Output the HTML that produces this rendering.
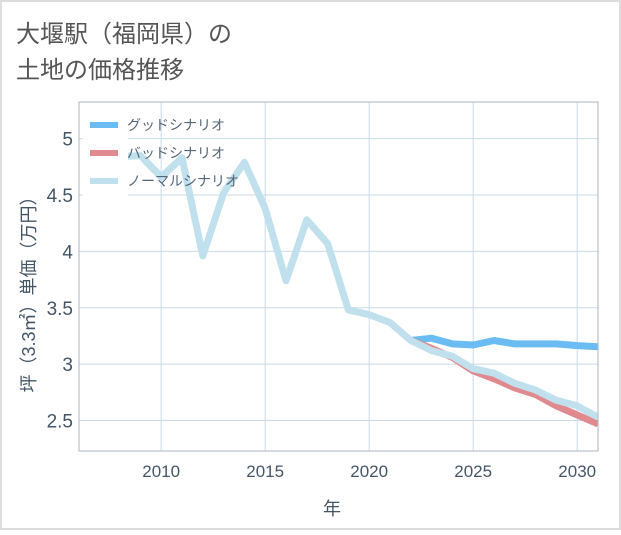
<!DOCTYPE html>
<html><head><meta charset="utf-8"><style>
body{margin:0;background:#fff;}
#wrap{position:relative;width:621px;height:530px;}
text{font-family:"Liberation Sans","Noto Sans CJK JP",sans-serif;}
</style></head><body>
<div id="wrap">
<svg id="chart" width="621" height="530">
<rect x="1" y="1" width="619" height="528" fill="#fff" stroke="#ddd" stroke-width="2"/>
<text x="16" y="42" font-size="24" fill="#555">大堰駅（福岡県）の</text>
<text x="16" y="78" font-size="24" fill="#555">土地の価格推移</text>
<g id="grid"></g>
<g id="series"></g>
<rect x="79" y="102" width="519" height="349" fill="none" stroke="#aab4c0" stroke-width="1"/>
<text x="332" y="515" font-size="18" fill="#445566" text-anchor="middle">年</text>
<text transform="translate(35,290) rotate(-90)" font-size="18" fill="#445566" text-anchor="middle">坪（3.3㎡）単価（万円）</text>
<g id="legend"></g>
</svg>
</div>
<script>
const years=[2008,2009,2010,2011,2012,2013,2014,2015,2016,2017,2018,2019,2020,2021,2022,2023,2024,2025,2026,2027,2028,2029,2030,2031];
const normalValues=[4.84,4.85,4.66,4.83,3.96,4.52,4.79,4.38,3.74,4.28,4.07,3.48,3.44,3.37,3.21,3.12,3.07,2.96,2.92,2.83,2.77,2.68,2.63,2.53];
const forecastYears=[2022,2023,2024,2025,2026,2027,2028,2029,2030,2031];
const goodValues=[3.21,3.23,3.18,3.17,3.21,3.18,3.18,3.18,3.165,3.155];
const badValues=[3.21,3.14,3.06,2.94,2.87,2.79,2.73,2.63,2.55,2.47];
const xTicks=[2010,2015,2020,2025,2030];
const yTicks=[2.5,3,3.5,4,4.5,5];
const yTickLabels=["2.5","3","3.5","4","4.5","5"];
const legendLabels=["グッドシナリオ","バッドシナリオ","ノーマルシナリオ"];

const NS="http://www.w3.org/2000/svg";
const L=79,R=598,T=102,B=451,X0=2006.05,X1=2031.0,Y0=2.23,Y1=5.325;
function sx(v){return L+(v-X0)/(X1-X0)*(R-L);}
function sy(v){return B-(v-Y0)/(Y1-Y0)*(B-T);}
function mk(tag,attrs,parent){const e=document.createElementNS(NS,tag);for(const k in attrs)e.setAttribute(k,attrs[k]);parent.appendChild(e);return e;}
const grid=document.getElementById('grid');
xTicks.forEach(t=>{
  const l=mk('line',{x1:sx(t),x2:sx(t),y1:T,y2:B,stroke:'#c8dbe6','stroke-width':1},grid);
  
  
  const tx=mk('text',{x:sx(t),y:477,'font-size':17,fill:'#445566','text-anchor':'middle'},grid);
  tx.textContent=t;
  
  
});
yTicks.forEach((t,i)=>{
  const l=mk('line',{x1:L,x2:R,y1:sy(t),y2:sy(t),stroke:'#c8dbe6','stroke-width':1},grid);
  
  
  const tx=mk('text',{x:73,y:sy(t)+7,'font-size':19,fill:'#445566','text-anchor':'end'},grid);
  tx.textContent=yTickLabels[i];
  
  
});
const ser=document.getElementById('series');
function path(xs,ys,color,name){
  const d=xs.map((x,i)=>(i?'L':'M')+sx(x).toFixed(1)+' '+sy(ys[i]).toFixed(1)).join(' ');
  const p=mk('path',{d:d,fill:'none',stroke:color,'stroke-width':7,'stroke-linejoin':'round'},ser);
  
  
}
const clip=mk('clipPath',{id:'pc'},document.getElementById('chart'));
mk('rect',{x:L,y:T,width:R-L,height:B-T},clip);
ser.setAttribute('clip-path','url(#pc)');
path(forecastYears,goodValues,'#6bbcf2','good-scenario-line');
path(forecastYears,badValues,'#e08a90','bad-scenario-line');
path(years,normalValues,'#bfe0ec','normal-scenario-line');
const lg=document.getElementById('legend');
const bg=mk('rect',{x:83,y:108,width:45,height:90,fill:'#fff'},lg);


const lc=['#6bbcf2','#e08a90','#bfe0ec'];
legendLabels.forEach((s,i)=>{
  const y=125+i*28;
  const ln=mk('line',{x1:90,x2:118,y1:y,y2:y,stroke:lc[i],'stroke-width':6},lg);
  
  
  const tx=mk('text',{x:127,y:y+5,'font-size':14,fill:'#556677'},lg);
  tx.textContent=s;
  
  
});
</script>
</body></html>
